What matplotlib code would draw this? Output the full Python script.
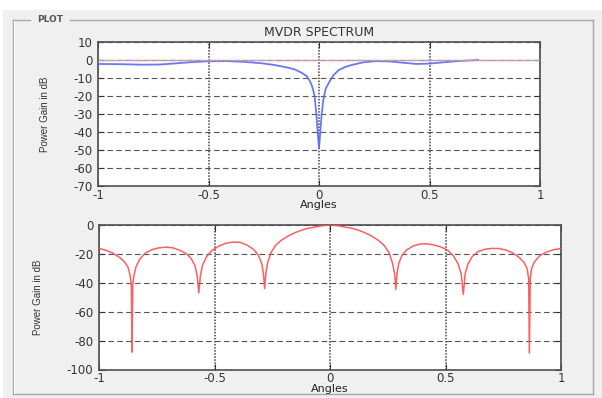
import numpy as np
import matplotlib.pyplot as plt

plt.rcParams['font.family'] = ['DejaVu Sans']
plt.rcParams['axes.unicode_minus'] = False

# MVDR spectrum (top panel)
mvdr_angles = [-1.0, -0.9, -0.8, -0.72, -0.65, -0.58, -0.5, -0.42, -0.34, -0.26,
               -0.2, -0.15, -0.11, -0.08, -0.055, -0.04, -0.03, -0.02, -0.012, -0.006,
               0.0, 0.006, 0.012, 0.02, 0.03, 0.045, 0.065, 0.09, 0.12, 0.15,
               0.2, 0.26, 0.32, 0.38, 0.44, 0.5, 0.56, 0.63, 0.72]
mvdr_gain = [-2.2, -2.3, -2.6, -2.5, -1.9, -1.2, -0.7, -0.6, -1.0, -1.8,
             -2.8, -4.0, -5.2, -7.0, -9.0, -12.0, -15.0, -20.0, -30.0, -40.0,
             -49.0, -40.0, -30.0, -22.0, -16.0, -12.5, -8.5, -5.5, -3.8, -2.7,
             -1.3, -0.6, -0.8, -1.5, -2.2, -2.0, -1.3, -0.6, 0.0]
ref_angles = [-1.0, 1.0]
ref_gain = [0.0, 0.0]

# beam pattern (bottom panel)
beam_angles = [-1.0, -0.97, -0.94, -0.91, -0.89, -0.875, -0.865, -0.86, -0.857, -0.854,
               -0.849, -0.84, -0.825, -0.8, -0.77, -0.74, -0.71, -0.68, -0.65, -0.62,
               -0.6, -0.585, -0.575, -0.568, -0.561, -0.552, -0.535, -0.51, -0.48, -0.45,
               -0.42, -0.39, -0.36, -0.33, -0.31, -0.295, -0.288, -0.283, -0.278, -0.27,
               -0.255, -0.235, -0.21, -0.18, -0.15, -0.12, -0.09, -0.06, -0.03, 0.0,
               0.03, 0.06, 0.09, 0.12, 0.15, 0.18, 0.21, 0.235, 0.255, 0.27,
               0.28, 0.285, 0.29, 0.297, 0.31, 0.33, 0.36, 0.39, 0.42, 0.45,
               0.48, 0.51, 0.535, 0.555, 0.568, 0.577, 0.585, 0.597, 0.615, 0.64,
               0.67, 0.7, 0.73, 0.76, 0.79, 0.82, 0.84, 0.853, 0.86, 0.863,
               0.867, 0.873, 0.885, 0.91, 0.94, 0.97, 1.0]
beam_gain = [-16.2, -17.5, -19.5, -22.5, -25.5, -29.0, -35.0, -42.0, -88.0, -42.0,
             -35.0, -29.0, -24.0, -19.5, -17.0, -15.8, -15.3, -15.8, -17.5, -20.0,
             -23.5, -28.0, -35.0, -47.0, -35.0, -28.0, -22.0, -17.5, -14.5, -12.6,
             -11.8, -12.0, -13.8, -17.0, -21.0, -27.0, -34.0, -44.0, -34.0, -26.0,
             -19.0, -14.0, -10.5, -7.5, -5.2, -3.4, -2.1, -1.3, -0.4, 0.0,
             -0.4, -1.3, -2.1, -3.4, -5.3, -7.6, -10.7, -14.2, -19.0, -26.0,
             -34.0, -44.5, -34.0, -27.0, -21.5, -17.5, -14.5, -13.2, -13.0, -13.8,
             -15.2, -17.5, -21.5, -27.0, -34.0, -48.0, -34.0, -27.0, -22.0, -18.5,
             -16.8, -16.2, -16.3, -17.2, -19.3, -22.5, -26.0, -30.0, -37.0, -88.6,
             -37.0, -30.0, -25.5, -21.0, -18.5, -17.0, -16.3]

x_ticks = [-1, -0.5, 0, 0.5, 1]
x_tick_labels = ['-1', '-0.5', '0', '0.5', '1']
top_y_ticks = [-70, -60, -50, -40, -30, -20, -10, 0, 10]
bottom_y_ticks = [-100, -80, -60, -40, -20, 0]

W, H = 602, 398
fig = plt.figure(figsize=(W / 100, H / 100), dpi=100, facecolor='#f0f0f0')

# GUI panel background and frame
bg = fig.add_axes([0, 0, 1, 1], zorder=-5)
bg.set_xlim(0, W)
bg.set_ylim(H, 0)
bg.axis('off')
bg.add_patch(plt.Rectangle((0, 0), W, 10, color='white', lw=0))
bg.add_patch(plt.Rectangle((0, 0), 3, H, color='white', lw=0))
frame = dict(color='#a8a8a8', lw=1.0)
bg.plot([13, 13], [20, 394], **frame)
bg.plot([13, 593], [394, 394], **frame)
bg.plot([593, 593], [20, 394], **frame)
bg.plot([13, 30], [20, 20], **frame)
bg.plot([70, 593], [20, 20], **frame)
bg.plot([14, 14], [21, 393], color='white', lw=0.8)
bg.text(50, 20, 'PLOT', fontsize=6.5, fontweight='bold', color='#555555',
        ha='center', va='center')

def style(ax, yticks):
    ax.set_facecolor('white')
    ax.set_xlim(-1, 1)
    ax.set_ylim(yticks[0], yticks[-1])
    ax.set_xticks(x_ticks)
    ax.set_xticklabels(x_tick_labels)
    ax.set_yticks(yticks)
    ax.tick_params(direction='in', length=4, width=0.8, top=True, right=True,
                   labelsize=8.5, colors='#333333', pad=2)
    ax.tick_params(axis='y', pad=4)
    for s in ax.spines.values():
        s.set_color('#505050')
        s.set_linewidth(1.2)
    ax.xaxis.grid(True, color='#404040', lw=1.1, linestyle=(0, (1, 1)))
    ax.yaxis.grid(True, color='#555555', lw=0.8, linestyle=(0, (5, 3)))
    ax.set_xlabel('Angles', fontsize=8, color='#222222', labelpad=-1)

ax1 = fig.add_axes([98 / W, 1 - 186 / H, 442 / W, 144 / H])
style(ax1, top_y_ticks)
ax1.plot(mvdr_angles, mvdr_gain, color='#5a68ff', lw=1.3, alpha=0.9, zorder=3)
ax1.plot(ref_angles, ref_gain, color='#f0a040', lw=1.0, linestyle=(0, (3, 3)), zorder=4)
ax1.plot(ref_angles, ref_gain, color='#9aa0ff', lw=1.0, linestyle=(3, (3, 3)), zorder=4)
ax1.set_title('MVDR SPECTRUM', fontsize=9, color='#333333', pad=4)
ax1.set_ylabel('Power Gain in dB', family='Liberation Sans', fontsize=7,
               color='#333333', va='center')
ax1.yaxis.set_label_coords((45 - 98) / 442, 0.5)

ax2 = fig.add_axes([99 / W, 1 - 369.5 / H, 462 / W, 144.5 / H])
style(ax2, bottom_y_ticks)
ax2.plot(beam_angles, beam_gain, color='#ff4d4d', lw=1.1, alpha=0.9, zorder=3)
ax2.set_ylabel('Power Gain in dB', family='Liberation Sans', fontsize=7,
               color='#333333', va='center')
ax2.yaxis.set_label_coords((38 - 99) / 462, 0.5)

fig.savefig('out.png', dpi=100, facecolor=fig.get_facecolor())
